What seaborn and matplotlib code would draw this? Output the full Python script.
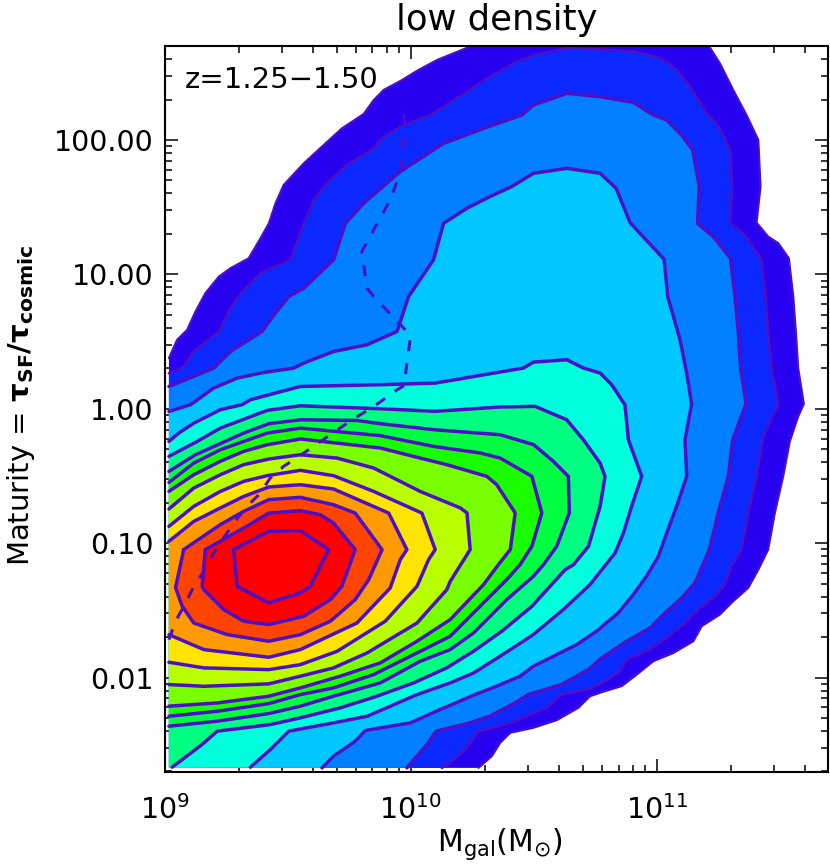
import numpy as np
import pandas as pd
import seaborn as sns
import matplotlib
matplotlib.use("Agg")
import matplotlib.pyplot as plt
from matplotlib.ticker import FixedLocator, FixedFormatter, NullFormatter

# Contours: (log10(Mgal) - 9, log10(maturity))
C1 = [(.018,.377),(.051,.513),(.092,.587),(.126,.724),(.166,.86),(.221,.984),(.268,1.046),(.342,1.12),(.39,1.269),(.424,1.38),(.451,1.529),(.484,1.665),(.566,1.827),(.647,1.963),(.721,2.087),(.809,2.193),(.85,2.297),(.89,2.372),(.965,2.446),(1.026,2.515),(1.107,2.595),(1.256,2.706),(2.21,2.706),(2.257,2.57),(2.311,2.372),(2.365,2.186),(2.413,2.0),(2.422,1.653),(2.406,1.385),(2.453,1.281),(2.494,1.232),(2.537,1.12),(2.555,.835),(2.566,.563),(2.575,.302),(2.598,.036),(2.575,-.057),(2.541,-.243),(2.514,-.503),(2.48,-.776),(2.453,-1.048),(2.413,-1.197),(2.372,-1.333),(2.311,-1.432),(2.257,-1.531),(2.183,-1.618),(2.149,-1.73),(2.068,-1.817),(1.986,-1.879),(1.919,-1.978),(1.858,-2.064),(1.777,-2.109),(1.729,-2.139),(1.682,-2.225),(1.594,-2.317),(1.499,-2.374),(1.405,-2.411),(1.364,-2.486),(1.33,-2.585),(1.276,-2.672)]
C2 = [(.018,.265),(.072,.302),(.119,.426),(.221,.575),(.261,.724),(.309,.86),(.39,1.009),(.512,1.108),(.566,1.38),(.606,1.554),(.66,1.678),(.742,1.814),(.85,1.938),(.884,2.012),(.958,2.099),(1.08,2.186),(1.229,2.359),(1.323,2.471),(1.418,2.57),(1.499,2.632),(1.635,2.682),(1.77,2.674),(1.905,2.657),(2.0,2.62),(2.041,2.582),(2.088,2.508),(2.135,2.397),(2.203,2.198),(2.257,2.087),(2.298,1.926),(2.307,1.653),(2.298,1.385),(2.365,1.281),(2.426,1.108),(2.443,.835),(2.453,.563),(2.467,.302),(2.494,.036),(2.433,-.206),(2.406,-.503),(2.372,-.776),(2.345,-1.048),(2.304,-1.172),(2.277,-1.309),(2.237,-1.395),(2.176,-1.482),(2.108,-1.606),(2.041,-1.705),(1.959,-1.804),(1.878,-1.866),(1.851,-1.953),(1.79,-2.027),(1.729,-2.084),(1.614,-2.126),(1.553,-2.225),(1.405,-2.337),(1.276,-2.399),(1.222,-2.535),(1.161,-2.634),(1.127,-2.672)]
C3 = [(.018,.166),(.2,.302),(.268,.426),(.396,.575),(.45,.711),(.505,.835),(.566,.897),(.687,1.108),(.735,1.38),(.809,1.529),(.958,1.765),(1.134,1.975),(1.323,2.104),(1.452,2.186),(1.499,2.26),(1.635,2.347),(1.77,2.322),(1.905,2.28),(1.986,2.186),(2.041,2.149),(2.101,2.037),(2.146,1.926),(2.173,1.653),(2.166,1.38),(2.23,1.281),(2.3,1.12),(2.318,.835),(2.332,.563),(2.341,.302),(2.363,.036),(2.309,-.23),(2.291,-.503),(2.25,-.776),(2.214,-1.048),(2.156,-1.296),(2.095,-1.42),(2.034,-1.519),(1.973,-1.631),(1.878,-1.73),(1.777,-1.854),(1.723,-1.94),(1.614,-2.052),(1.479,-2.126),(1.425,-2.188),(1.323,-2.287),(1.242,-2.337),(1.104,-2.399),(1.066,-2.499),(.985,-2.672)]
C4 = [(.018,-.02),(.106,.03),(.2,.154),(.295,.228),(.403,.27),(.525,.302),(.566,.34),(.687,.426),(.823,.476),(.945,.575),(.992,.835),(1.093,1.108),(1.134,1.38),(1.229,1.492),(1.323,1.579),(1.411,1.653),(1.499,1.752),(1.635,1.789),(1.77,1.752),(1.835,1.641),(1.892,1.385),(2.03,1.113),(2.045,.835),(2.095,.513),(2.122,.265),(2.142,.036),(2.115,-.23),(2.122,-.503),(2.081,-.726),(2.041,-.924),(2.007,-1.098),(1.959,-1.246),(1.905,-1.383),(1.844,-1.519),(1.756,-1.655),(1.675,-1.755),(1.581,-1.841),(1.499,-1.916),(1.445,-1.99),(1.35,-2.064),(1.263,-2.126),(1.12,-2.238),(.999,-2.337),(.816,-2.394),(.775,-2.474),(.687,-2.585),(.64,-2.672)]
C5 = [(.018,-.243),(.058,-.181),(.119,-.107),(.227,-.007),(.315,.03),(.349,.067),(.552,.166),(.877,.179),(1.1,.191),(1.459,.303),(1.499,.347),(1.635,.365),(1.702,.303),(1.77,.266),(1.817,.179),(1.871,.03),(1.885,-.23),(1.939,-.503),(1.898,-.726),(1.865,-.924),(1.831,-1.073),(1.729,-1.308),(1.628,-1.482),(1.499,-1.68),(1.364,-1.841),(1.256,-1.966),(1.161,-2.04),(1.026,-2.127),(.823,-2.288),(.687,-2.337),(.505,-2.399),(.43,-2.536),(.349,-2.667)]
C6 = [(.018,-.354),(.133,-.243),(.227,-.144),(.417,-.012),(.552,.022),(.877,0.0),(1.1,-.019),(1.364,.013),(1.506,.018),(1.634,-.081),(1.702,-.23),(1.77,-.404),(1.79,-.503),(1.77,-.726),(1.723,-1.023),(1.662,-1.16),(1.628,-1.197),(1.493,-1.47),(1.371,-1.655),(1.256,-1.804),(1.147,-1.928),(1.012,-2.04),(.863,-2.139),(.714,-2.226),(.552,-2.3),(.43,-2.35),(.214,-2.399),(.153,-2.498),(.031,-2.667)]
C7 = [(.018,-.466),(.126,-.342),(.322,-.181),(.424,-.111),(.552,-.082),(.782,-.087),(.877,-.111),(1.096,-.156),(1.364,-.193),(1.5,-.267),(1.58,-.391),(1.641,-.503),(1.645,-.775),(1.594,-1.023),(1.54,-1.16),(1.499,-1.247),(1.391,-1.42),(1.256,-1.668),(1.161,-1.792),(1.039,-1.879),(.877,-2.04),(.687,-2.139),(.552,-2.213),(.424,-2.268),(.214,-2.325),(.018,-2.362)]
C8 = [(.018,-.548),(.119,-.404),(.227,-.305),(.322,-.243),(.417,-.181),(.552,-.144),(.877,-.2),(1.093,-.28),(1.283,-.329),(1.364,-.367),(1.493,-.503),(1.533,-.775),(1.493,-1.023),(1.445,-1.16),(1.391,-1.271),(1.296,-1.445),(1.161,-1.693),(1.026,-1.817),(.85,-1.978),(.687,-2.077),(.552,-2.127),(.424,-2.194),(.214,-2.251),(.018,-2.288)]
C9 = [(.018,-.615),(.119,-.491),(.227,-.391),(.322,-.317),(.417,-.268),(.552,-.225),(.877,-.292),(1.039,-.367),(1.147,-.416),(1.31,-.503),(1.35,-.565),(1.425,-.775),(1.405,-1.048),(1.357,-1.16),(1.296,-1.309),(1.161,-1.569),(1.026,-1.73),(.877,-1.891),(.714,-1.99),(.552,-2.077),(.424,-2.139),(.214,-2.189),(.018,-2.213)]
C10 = [(.018,-.746),(.119,-.59),(.227,-.491),(.322,-.416),(.424,-.374),(.552,-.342),(.701,-.367),(.85,-.441),(1.039,-.615),(1.202,-.738),(1.229,-.775),(1.242,-1.048),(1.161,-1.284),(1.147,-1.346),(1.026,-1.594),(.823,-1.817),(.687,-1.928),(.552,-1.99),(.424,-2.047),(.16,-2.065),(.018,-2.052)]
C11 = [(.018,-.875),(.119,-.726),(.227,-.615),(.322,-.54),(.417,-.498),(.552,-.458),(.687,-.498),(.85,-.615),(1.046,-.776),(1.1,-1.048),(1.073,-1.123),(1.026,-1.321),(.897,-1.581),(.701,-1.805),(.552,-1.904),(.424,-1.941),(.16,-1.928),(.018,-1.886)]
C12 = [(.018,-.986),(.119,-.838),(.227,-.738),(.322,-.652),(.424,-.582),(.552,-.565),(.687,-.597),(.911,-.776),(.985,-1.048),(.958,-1.123),(.917,-1.334),(.782,-1.594),(.552,-1.792),(.424,-1.849),(.16,-1.792),(.018,-1.681)]
C13 = [(.078,-1.048),(.227,-.862),(.322,-.763),(.424,-.676),(.552,-.659),(.687,-.714),(.775,-.776),(.884,-1.048),(.83,-1.271),(.775,-1.42),(.674,-1.581),(.552,-1.681),(.424,-1.73),(.254,-1.68),(.119,-1.594),(.072,-1.47),(.045,-1.33),(.078,-1.048)]
C14 = [(.166,-1.048),(.322,-.887),(.424,-.776),(.552,-.758),(.633,-.788),(.687,-.85),(.775,-1.048),(.721,-1.321),(.674,-1.42),(.566,-1.544),(.424,-1.606),(.322,-1.581),(.241,-1.495),(.16,-1.346),(.153,-1.321),(.166,-1.048)]
C15 = [(.281,-1.048),(.424,-.912),(.552,-.907),(.667,-1.048),(.593,-1.321),(.552,-1.37),(.424,-1.445),(.295,-1.321),(.281,-1.048)]
MEDIAN = [(.018,-1.718),(.045,-1.581),(.086,-1.445),(.119,-1.321),(.16,-1.21),(.2,-1.073),(.281,-.85),(.335,-.726),(.383,-.64),(.43,-.515),(.484,-.429),(.545,-.355),(.606,-.28),(.674,-.193),(.742,-.107),(.796,-.044),(.85,.017),(.945,.141),(.974,.173),(.985,.34),(.999,.525),(.985,.575),(.85,.835),(.823,.897),(.802,1.17),(.85,1.331),(.917,1.554),(.958,1.752),(.978,2.099),(.968,2.26)]

CONTOURS = [C1, C2, C3, C4, C5, C6, C7, C8, C9, C10, C11, C12, C13, C14, C15]
LEVEL_COLORS = ['#2800f0', '#0a28ff', '#0080ff', '#00c8ff', '#00ffdc', '#00ff80', '#00ff40',
                '#1aff00', '#78ff00', '#b9ff00', '#ffe400', '#ff9a00', '#ff4400', '#ff0000', '#ff0000']
LINE_COLOR = '#4e10c4'
CORNER = (.018, -2.672)
Y_TICKS = [0.01, 0.1, 1, 10, 100]
Y_LABELS = ['0.01', '0.10', '1.00', '10.00', '100.00']
X_TICKS = [1e9, 1e10, 1e11]
X_LABELS = [r'$\mathregular{10^{9}}$', r'$\mathregular{10^{10}}$', r'$\mathregular{10^{11}}$']


def to_frame(points):
    d = pd.DataFrame(points, columns=['m', 't'])
    return pd.DataFrame({'mass': 10 ** (9 + d.m), 'maturity': 10 ** d.t})


sns.set_theme(style='ticks', rc={'axes.linewidth': 1.5, 'font.size': 20,
                                 'text.color': 'black', 'axes.labelcolor': 'black',
                                 'xtick.color': 'black', 'ytick.color': 'black',
                                 'axes.titlecolor': 'black'})
plt.rcParams['font.family'] = ['DejaVu Sans']
plt.rcParams['mathtext.fontset'] = 'dejavusans'

fig = plt.figure(figsize=(8.3, 8.67), dpi=100)
ax = fig.add_axes([164.5 / 830, 1 - 771.5 / 867, (828 - 164.5) / 830, (771.5 - 45.5) / 867])
ax.set_xscale('log')
ax.set_yscale('log')

palette = sns.color_palette(LEVEL_COLORS)
for i, (points, colour) in enumerate(zip(CONTOURS, palette)):
    closed = points + [CORNER] if i < 6 else points
    f = to_frame(closed)
    ax.fill(f.mass, f.maturity, facecolor=colour, edgecolor='none', zorder=2 + i * 0.01)

for i, points in enumerate(CONTOURS):
    width = 1.5 if i == 0 else 1.9 if i == 1 else 2.5
    sns.lineplot(data=to_frame(points), x='mass', y='maturity', sort=False, estimator=None,
                 color=LINE_COLOR, ax=ax, zorder=3, errorbar=None)
    ax.lines[-1].set_linewidth(width)
    ax.lines[-1].set_solid_joinstyle('round')

sns.lineplot(data=to_frame(MEDIAN), x='mass', y='maturity', sort=False, estimator=None,
             color=LINE_COLOR, ax=ax, zorder=4, errorbar=None)
ax.lines[-1].set_linewidth(2.2)
ax.lines[-1].set_linestyle((0, (3.6, 3.9)))

ax.set_xlim(1e9, 10 ** 11.696)
ax.set_ylim(10 ** -2.699, 10 ** 2.703)

ax.xaxis.set_major_locator(FixedLocator(X_TICKS))
ax.xaxis.set_major_formatter(FixedFormatter(X_LABELS))
ax.yaxis.set_major_locator(FixedLocator(Y_TICKS))
ax.yaxis.set_major_formatter(FixedFormatter(Y_LABELS))
x_minor = [k * 10.0 ** e for e in (9, 10, 11) for k in range(2, 10)]
y_minor = [k * 10.0 ** e for e in (-3, -2, -1, 0, 1, 2) for k in range(2, 10)]
ax.xaxis.set_minor_locator(FixedLocator(x_minor))
ax.yaxis.set_minor_locator(FixedLocator(y_minor))
ax.xaxis.set_minor_formatter(NullFormatter())
ax.yaxis.set_minor_formatter(NullFormatter())
ax.tick_params(which='major', direction='in', length=9.4, width=1.1, top=True, right=True,
               labelsize=20.5, colors='black', zorder=6)
ax.tick_params(axis='x', which='major', pad=17)
ax.tick_params(axis='y', which='major', pad=8)
ax.tick_params(which='minor', direction='in', length=4.7, width=1.1, top=True, right=True, zorder=6)
for s in ax.spines.values():
    s.set_visible(True)
    s.set_color('black')
    s.set_linewidth(1.5)
    s.set_zorder(7)

ax.set_xlabel(r'$\mathregular{M_{gal}(M_{\odot})}$', fontsize=21.5)
ax.xaxis.set_label_coords((500 - 164.5) / 663.5, -(826 - 771.5) / 726, transform=ax.transAxes)
ax.set_ylabel(r'Maturity = $\mathbf{\tau_{SF}/\tau_{cosmic}}$', fontsize=21)
ax.yaxis.set_label_coords(-(164.5 - 37) / 663.5, (771.5 - 405) / 726, transform=ax.transAxes)
ax.set_title('low density', fontsize=25.5, pad=11, color='black')
ax.text(185 / 830, 1 - 80 / 867, 'z=1.25\u22121.50', transform=fig.transFigure, fontsize=21,
        ha='left', va='center', color='black', zorder=8)

fig.savefig('out.png', dpi=100, facecolor='white')
